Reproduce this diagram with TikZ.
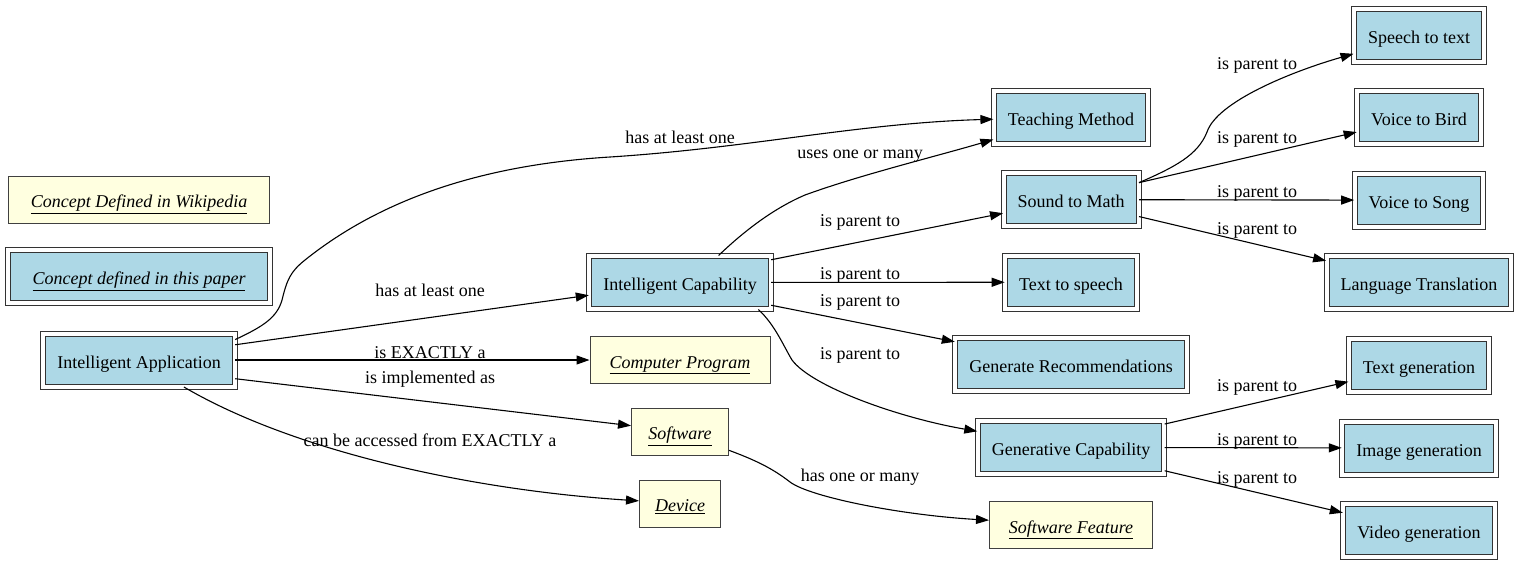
\documentclass[tikz,border=0pt]{standalone}
\usepackage{fontspec}
\setmainfont{Liberation Serif}
\usetikzlibrary{arrows.meta, positioning, calc}
\definecolor{conceptblue}{HTML}{ADD8E6}
\definecolor{wikiyellow}{HTML}{FFFFE0}

\begin{document}
\begin{tikzpicture}[x=1pt, y=-1pt, node distance=82.6pt, every node/.style={font=\fontsize{18}{20}\selectfont}]
    \tikzstyle{concept} = [rectangle, draw=black!80, double=white, double distance=4pt, line width=1pt, fill=conceptblue, minimum height=53pt, inner xsep=14pt, inner ysep=0pt, text height=16pt, text depth=0pt, text centered]
    \tikzstyle{wiki} = [rectangle, draw=black!75, line width=1pt, fill=wikiyellow, minimum height=47pt, inner xsep=15pt, inner ysep=0pt, text height=16pt, text depth=0pt, text centered, font=\fontsize{18}{20}\selectfont\itshape]
    \tikzstyle{arrow} = [line width=1.1pt, ->, >={Triangle[length=13pt, width=9pt]}]
    \tikzstyle{lbl} = [inner sep=0pt, yshift=-2pt]
    \useasboundingbox (0,0) rectangle (1520,565);
    % Legend and root
    \node (legendwiki) [wiki, minimum width=261pt] at (139,199.5) {\underline{Concept Defined in Wikipedia}};
    \node (legendpaper) [concept, minimum width=262pt, font=\fontsize{18}{20}\selectfont\itshape] at (139,276.5) {\underline{Concept defined in this paper}};
    \node (app) [concept] at (139,360) {Intelligent Application};
    % Second column
    \node (capability) [concept] at (680,282.5) {Intelligent Capability};
    \node (program) [wiki, minimum width=180pt] at (680,360) {\underline{Computer Program}};
    \node (software) [wiki, minimum width=97pt] at (680,431.5) {\underline{Software}};
    \node (device) [wiki, minimum width=81pt] at (680,503.5) {\underline{Device}};
    % Third column
    \node (teaching) [concept] at (1071,117) {Teaching Method};
    \node (soundmath) [concept, below of=teaching] {Sound to Math};
    \node (textspeech) [concept, below of=soundmath] {Text to speech};
    \node (recommend) [concept, below of=textspeech] {Generate Recommendations};
    \node (generative) [concept, below of=recommend] {Generative Capability};
    \node (feature) [wiki, minimum width=163pt, below of=generative, yshift=5pt] {\underline{Software Feature}};
    % Fourth column
    \node (speechtext) [concept] at (1419,35) {Speech to text};
    \node (voicebird) [concept, below of=speechtext] {Voice to Bird};
    \node (voicesong) [concept, below of=voicebird] {Voice to Song};
    \node (translation) [concept, below of=voicesong] {Language Translation};
    \node (textgen) [concept, below of=translation] {Text generation};
    \node (imagegen) [concept, below of=textgen] {Image generation};
    \node (videogen) [concept, below of=imagegen] {Video generation};
    % Arrows from the application
    \draw [arrow] (app.12) .. controls (262,327) and (277,318) .. (282,300) .. controls (287,280) and (290,272) .. (305,260) .. controls (380,200) and (480,165) .. (610,157) .. controls (750,148) and (860,123) .. (teaching) node[lbl] at (680,135) {has at least one};
    \draw [arrow] (app.9) -- (capability) node[lbl] at (430,288) {has at least one};
    \draw [arrow] (app) -- (program) node[lbl] at (430,351) {is EXACTLY a};
    \draw [arrow] (app.-11) -- (software) node[lbl] at (430,377) {is implemented as};
    \draw [arrow] (app.-31) .. controls (293,451) and (470,490) .. (device) node[lbl] at (430,438) {can be accessed from EXACTLY a};
    % Arrows from the capability
    \draw [arrow] (capability.35) .. controls (740,235) and (770,210) .. (805,195) .. controls (860,175) and (930,158) .. (teaching) node[lbl] at (860,154) {uses one or many};
    \draw [arrow] (capability.14) -- (soundmath) node[lbl] at (860,220) {is parent to};
    \draw [arrow] (capability) -- (textspeech) node[lbl] at (860,273) {is parent to};
    \draw [arrow] (capability.-14) -- (recommend) node[lbl] at (860,300) {is parent to};
    \draw [arrow] (capability.-19) .. controls (775,325) and (783,345) .. (792,360) .. controls (812,387) and (900,418) .. (generative) node[lbl] at (860,353) {is parent to};
    \draw [arrow] (software.-21) .. controls (755,460) and (772,468) .. (790,482) .. controls (810,497) and (900,515) .. (feature) node[lbl] at (860,475) {has one or many};
    % Children of sound to math
    \draw [arrow] (soundmath.14) .. controls (1175,167) and (1198,155) .. (1207,132) .. controls (1217,102) and (1290,72) .. (speechtext) node[lbl] at (1257,63) {is parent to};
    \draw [arrow] (soundmath.14) -- (voicebird) node[lbl] at (1257,137) {is parent to};
    \draw [arrow] (soundmath) -- (voicesong) node[lbl] at (1257,191) {is parent to};
    \draw [arrow] (soundmath.-14) -- (translation) node[lbl] at (1257,228) {is parent to};
    % Children of generative capability
    \draw [arrow] (generative.14) -- (textgen) node[lbl] at (1257,385) {is parent to};
    \draw [arrow] (generative) -- (imagegen) node[lbl] at (1257,439) {is parent to};
    \draw [arrow] (generative.-14) -- (videogen) node[lbl] at (1257,477) {is parent to};
\end{tikzpicture}
\end{document}
